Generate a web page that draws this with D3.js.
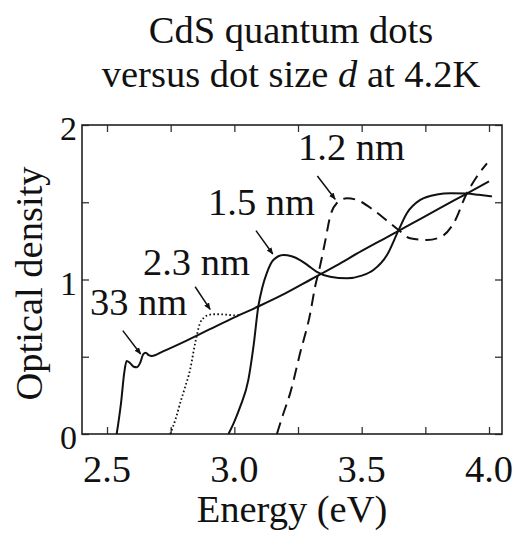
<!DOCTYPE html>
<html>
<head>
<meta charset="utf-8">
<script src="https://cdn.jsdelivr.net/npm/d3@7/dist/d3.min.js"></script>
<style>
  html, body { margin: 0; padding: 0; background: #fff; }
  svg text { font-family: "Liberation Serif", "Times New Roman", serif; fill: #111; }
</style>
</head>
<body>
<svg id="chart" width="514" height="539"></svg>
<script>
// ---- data (Energy eV, Optical density) ----
const xTicks = [2.5, 2.75, 3.0, 3.25, 3.5, 3.75, 4.0];
const xTickLabels = ["2.5", "", "3.0", "", "3.5", "", "4.0"];
const yTicks = [0, 0.5, 1, 1.5, 2];
const yTickLabels = ["0", "", "1", "", "2"];

const d33E = [2.538, 2.555, 2.568, 2.577, 2.59, 2.605, 2.617, 2.63, 2.642, 2.652, 2.664, 2.676, 2.72, 2.8, 2.9, 3.0, 3.1, 3.2, 3.3, 3.4, 3.5, 3.6, 3.7, 3.8, 3.9, 4.0];
const d33V = [0.0, 0.2, 0.4, 0.472, 0.46, 0.435, 0.432, 0.46, 0.515, 0.526, 0.51, 0.505, 0.535, 0.595, 0.675, 0.755, 0.83, 0.91, 1.0, 1.09, 1.185, 1.275, 1.365, 1.455, 1.545, 1.635];

const d23E = [2.748, 2.77, 2.787, 2.806, 2.826, 2.846, 2.865, 2.88, 2.898, 2.92, 2.944, 2.97, 2.996, 3.02];
const d23V = [0.0, 0.1, 0.199, 0.3, 0.414, 0.587, 0.716, 0.752, 0.77, 0.775, 0.775, 0.772, 0.768, 0.77];

const d15E = [2.977, 3.0, 3.023, 3.055, 3.075, 3.094, 3.11, 3.127, 3.153, 3.193, 3.225, 3.258, 3.29, 3.324, 3.376, 3.442, 3.5, 3.546, 3.6, 3.645, 3.678, 3.73, 3.795, 3.85, 3.913, 3.96, 4.012];
const d15V = [0.0, 0.08, 0.177, 0.35, 0.565, 0.824, 0.95, 1.04, 1.126, 1.159, 1.15, 1.126, 1.09, 1.05, 1.018, 1.008, 1.025, 1.061, 1.16, 1.32, 1.43, 1.515, 1.55, 1.558, 1.556, 1.548, 1.538];

const d12E = [3.167, 3.19, 3.219, 3.258, 3.298, 3.317, 3.337, 3.357, 3.376, 3.402, 3.442, 3.481, 3.546, 3.6, 3.645, 3.69, 3.756, 3.808, 3.861, 3.913, 3.952, 3.992];
const d12V = [0.0, 0.12, 0.263, 0.522, 0.781, 0.953, 1.09, 1.25, 1.407, 1.493, 1.526, 1.515, 1.45, 1.38, 1.32, 1.267, 1.256, 1.273, 1.364, 1.558, 1.665, 1.752];

const labelNames = ["33 nm", "2.3 nm", "1.5 nm", "1.2 nm"];
const labelE = [2.433, 2.641, 2.897, 3.25];
const labelV = [0.77, 1.029, 1.417, 1.773];
const arrowTailE = [2.562, 2.846, 3.085, 3.326];
const arrowTailV = [0.669, 0.953, 1.316, 1.67];
const arrowTipE = [2.632, 2.905, 3.151, 3.396];
const arrowTipV = [0.518, 0.807, 1.165, 1.519];

// ---- layout ----
const svg = d3.select("#chart");
const L = 82, R = 502, T = 125, B = 434;
const x = d3.scaleLinear().domain([2.4018, 4.051]).range([L, R]);
const y = d3.scaleLinear().domain([0, 2]).range([B, T]);
const FS = 38.5;

// title
svg.append("text").attr("x", 291).attr("y", 43).attr("text-anchor", "middle")
  .attr("font-size", FS).text("CdS quantum dots");
const t2 = svg.append("text").attr("x", 291).attr("y", 87).attr("text-anchor", "middle")
  .attr("font-size", FS);
t2.append("tspan").text("versus dot size ");
t2.append("tspan").attr("font-style", "italic").text("d");
t2.append("tspan").text(" at 4.2K");

// axes ticks (inward) on all four sides
const tk = 7;
const axG = svg.append("g");
axG.append("g").attr("transform", `translate(0,${B})`)
  .call(d3.axisBottom(x).tickValues(xTicks).tickSizeInner(-tk).tickSizeOuter(0).tickFormat(""));
axG.append("g").attr("transform", `translate(0,${T})`)
  .call(d3.axisTop(x).tickValues(xTicks).tickSizeInner(-tk).tickSizeOuter(0).tickFormat(""));
axG.append("g").attr("transform", `translate(${L},0)`)
  .call(d3.axisLeft(y).tickValues(yTicks).tickSizeInner(-tk).tickSizeOuter(0).tickFormat(""));
axG.append("g").attr("transform", `translate(${R},0)`)
  .call(d3.axisRight(y).tickValues(yTicks).tickSizeInner(-tk).tickSizeOuter(0).tickFormat(""));
axG.selectAll(".domain").remove();
axG.selectAll(".tick line").attr("stroke", "#333").attr("stroke-width", 1.3);

// frame
svg.append("rect").attr("x", L).attr("y", T).attr("width", R - L).attr("height", B - T)
  .attr("fill", "none").attr("stroke", "#222").attr("stroke-width", 1.6);

// tick labels
svg.append("g").selectAll("text").data(xTicks).join("text")
  .attr("x", d => x(d)).attr("y", 482).attr("text-anchor", "middle")
  .attr("font-size", FS).text((d, i) => xTickLabels[i]);
svg.append("g").selectAll("text").data(yTicks).join("text")
  .attr("x", 77).attr("y", d => y(d) + 15).attr("text-anchor", "end")
  .attr("font-size", 34).text((d, i) => yTickLabels[i]);

// axis titles
svg.append("text").attr("x", 292).attr("y", 522).attr("text-anchor", "middle")
  .attr("font-size", FS).text("Energy (eV)");
svg.append("text").attr("transform", `translate(42,${283.5}) rotate(-90)`)
  .attr("text-anchor", "middle").attr("font-size", FS).text("Optical density");

// curves
const line = d3.line().x(d => x(d[0])).y(d => y(d[1])).curve(d3.curveMonotoneX);
const zip = (a, b) => a.map((v, i) => [v, b[i]]);
const plot = svg.append("g");
plot.append("path").datum(zip(d33E, d33V)).attr("d", line)
  .attr("fill", "none").attr("stroke", "#111").attr("stroke-width", 2);
plot.append("path").datum(zip(d23E, d23V)).attr("d", line)
  .attr("fill", "none").attr("stroke", "#111").attr("stroke-width", 1.8)
  .attr("stroke-dasharray", "1.6,2.4");
plot.append("path").datum(zip(d15E, d15V)).attr("d", line)
  .attr("fill", "none").attr("stroke", "#111").attr("stroke-width", 2);
plot.append("path").datum(zip(d12E, d12V)).attr("d", line)
  .attr("fill", "none").attr("stroke", "#111").attr("stroke-width", 2)
  .attr("stroke-dasharray", "12,7");

// annotations
svg.append("defs").append("marker").attr("id", "ah")
  .attr("viewBox", "0 0 10 10").attr("refX", 9).attr("refY", 5)
  .attr("markerWidth", 7).attr("markerHeight", 7).attr("orient", "auto")
  .attr("markerUnits", "userSpaceOnUse")
  .append("path").attr("d", "M0,1 L10,5 L0,9 Z").attr("fill", "#111");
const ann = svg.append("g");
labelNames.forEach((name, i) => {
  ann.append("text").attr("x", x(labelE[i])).attr("y", y(labelV[i]))
    .attr("font-size", FS).text(name);
  ann.append("line")
    .attr("x1", x(arrowTailE[i])).attr("y1", y(arrowTailV[i]))
    .attr("x2", x(arrowTipE[i])).attr("y2", y(arrowTipV[i]))
    .attr("stroke", "#111").attr("stroke-width", 1.5).attr("marker-end", "url(#ah)");
});
</script>
</body>
</html>
